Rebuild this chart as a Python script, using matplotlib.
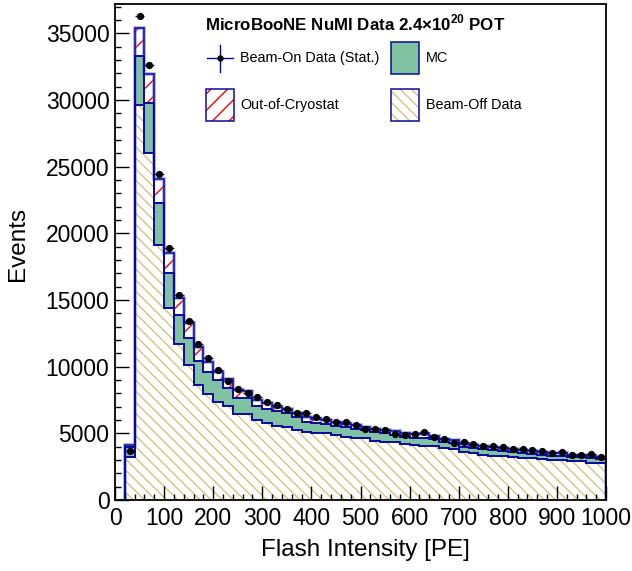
import numpy as np
import matplotlib
matplotlib.use('Agg')
import matplotlib.pyplot as plt
import matplotlib.ticker as tck
from matplotlib.patches import Rectangle

plt.rcParams['font.family'] = ['Liberation Sans', 'DejaVu Sans']
plt.rcParams['mathtext.fontset'] = 'custom'
plt.rcParams['mathtext.rm'] = 'Liberation Sans'
plt.rcParams['mathtext.bf'] = 'Liberation Sans:bold'
plt.rcParams['hatch.linewidth'] = 1.0

# Binning (20 PE bins from 20 to 1000 PE)
bin_edges = np.arange(20, 1001, 20)

# Stack components (events per bin)
beam_off = np.array([3200, 29600, 26060, 19110, 14410, 11670, 10140, 8640, 7940, 7370,
                     7070, 6470, 6450, 5970, 5750, 5570, 5470, 5250, 5080, 5030,
                     4990, 4880, 4740, 4650, 4620, 4460, 4370, 4330, 4200, 4100,
                     4080, 4070, 3870, 3800, 3600, 3500, 3400, 3320, 3320, 3250,
                     3170, 3170, 3070, 3000, 3000, 2920, 2920, 2800, 2750])
mc = np.array([750, 3680, 3690, 3200, 2650, 2190, 1980, 1750, 1630, 1650,
               1320, 1200, 1190, 1100, 1100, 1080, 1070, 1000, 800, 740,
               700, 700, 700, 680, 620, 640, 620, 580, 560, 560,
               580, 500, 480, 440, 400, 380, 390, 400, 370, 340,
               380, 310, 330, 300, 310, 290, 290, 320, 300])
out_of_cryo = np.array([170, 2150, 2180, 1750, 1500, 1300, 1170, 1100, 770, 570,
                        660, 550, 530, 450, 400, 320, 250, 250, 330, 320,
                        300, 290, 280, 260, 270, 250, 250, 230, 230, 260,
                        280, 260, 240, 250, 230, 230, 250, 220, 200, 220,
                        220, 210, 200, 190, 190, 180, 180, 180, 160])
beam_on = np.array([3700, 36300, 32650, 24460, 18890, 15340, 13390, 11670, 10640, 9740,
                    8900, 8340, 8000, 7700, 7370, 7100, 6820, 6500, 6500, 6245,
                    6045, 5870, 5845, 5620, 5295, 5320, 5245, 4945, 4870, 4970,
                    5070, 4720, 4595, 4295, 4372, 4172, 4072, 4072, 3947, 3797,
                    3797, 3747, 3647, 3547, 3572, 3397, 3397, 3447, 3197])

# Colours
navy = '#0a0a9a'
green = '#80c2a2'
tan = '#d2c483'
red = '#ff0000'

stack_mc = beam_off + mc
stack_all = stack_mc + out_of_cryo
centers = 0.5 * (bin_edges[:-1] + bin_edges[1:])

fig = plt.figure(figsize=(6.32, 5.71), dpi=100)
ax = fig.add_axes([115/632, 71/571, 491/632, 496/571])

# Filled stack
ax.stairs(stack_all, bin_edges, baseline=0, fill=True, facecolor='white',
          edgecolor=red, hatch='//', linewidth=0)
ax.stairs(stack_mc, bin_edges, baseline=0, fill=True, facecolor=green,
          edgecolor=green, linewidth=0)
ax.stairs(beam_off, bin_edges, baseline=0, fill=True, facecolor='white',
          edgecolor=tan, hatch='\\\\\\', linewidth=0)

# Outlines
ax.stairs(stack_all, bin_edges, baseline=0, color='#6f6fd8', linewidth=2.6, alpha=0.6)
ax.stairs(stack_all, bin_edges, baseline=0, color=navy, linewidth=1.1)
ax.stairs(stack_mc, bin_edges, baseline=0, color=navy, linewidth=1.4)
ax.stairs(beam_off, bin_edges, baseline=0, color=navy, linewidth=1.4)

# Beam-on data
ax.errorbar(centers, beam_on, yerr=np.sqrt(beam_on), xerr=10, fmt='o',
            color='black', ecolor=navy, elinewidth=1.0, markersize=4.2,
            capsize=0, zorder=5)

ax.set_xlim(0, 1000)
ax.set_ylim(0, 37200)
ax.xaxis.set_major_locator(tck.MultipleLocator(100))
ax.xaxis.set_minor_locator(tck.MultipleLocator(20))
ax.yaxis.set_major_locator(tck.MultipleLocator(5000))
ax.yaxis.set_minor_locator(tck.MultipleLocator(1000))
ax.tick_params(which='both', direction='in', top=False, right=False,
               width=1.0, labelsize=16.5)
ax.tick_params(which='major', length=10)
ax.tick_params(which='minor', length=4.3)
ax.tick_params(axis='x', pad=5)
ax.tick_params(axis='y', pad=4)
for s in ax.spines.values():
    s.set_linewidth(1.3)

ax.set_xlabel('Flash Intensity [PE]', fontsize=17.5)
ax.set_ylabel('Events', fontsize=17.5)
ax.xaxis.label.set_va('center')
ax.yaxis.label.set_va('center')
ax.xaxis.set_label_coords(0.511, -0.101)
ax.yaxis.set_label_coords(-0.197, 0.516)

# Legend (drawn in axes coordinates)
def ax_xy(px, py):
    return ((px - 115) / 491, (500 - py) / 496)

tx, ty = ax_xy(355, 23)
ax.text(tx, ty, r'MicroBooNE NuMI Data 2.4×10$^{\mathbf{20}}$ POT', transform=ax.transAxes,
        ha='center', va='center', fontsize=12.2, fontweight='bold')

x0, y0 = ax_xy(207, 58)
x1, _ = ax_xy(233, 58)
_, ya = ax_xy(220, 45)
_, yb = ax_xy(220, 72)
xc, _ = ax_xy(220, 58)
ax.plot([x0, x1], [y0, y0], color=navy, lw=1.0, transform=ax.transAxes, clip_on=False)
ax.plot([xc, xc], [yb, ya], color=navy, lw=1.0, transform=ax.transAxes, clip_on=False)
ax.plot([xc], [y0], 'o', color='black', ms=3.5, transform=ax.transAxes, clip_on=False)

def legend_box(px, py, face, edge, hatch):
    bx, by = ax_xy(px, py + 32)
    r = Rectangle((bx, by), 28/491, 32/496, transform=ax.transAxes,
                  facecolor=face, edgecolor=edge, hatch=hatch, linewidth=0, clip_on=False)
    ax.add_patch(r)
    ax.add_patch(Rectangle((bx, by), 28/491, 32/496, transform=ax.transAxes,
                           fill=False, edgecolor=navy, linewidth=1.1, clip_on=False))

legend_box(391, 42, green, green, None)
legend_box(206, 89, 'white', red, '//')
legend_box(391, 89, 'white', tan, '\\\\\\')

entries = [(240, 58, 'Beam-On Data (Stat.)'), (426, 58, 'MC'),
           (240, 105, 'Out-of-Cryostat'), (426, 105, 'Beam-Off Data')]
for px, py, label in entries:
    lx, ly = ax_xy(px, py)
    ax.text(lx, ly, label, transform=ax.transAxes, ha='left', va='center', fontsize=10.4)

fig.savefig('out.png', dpi=100)
